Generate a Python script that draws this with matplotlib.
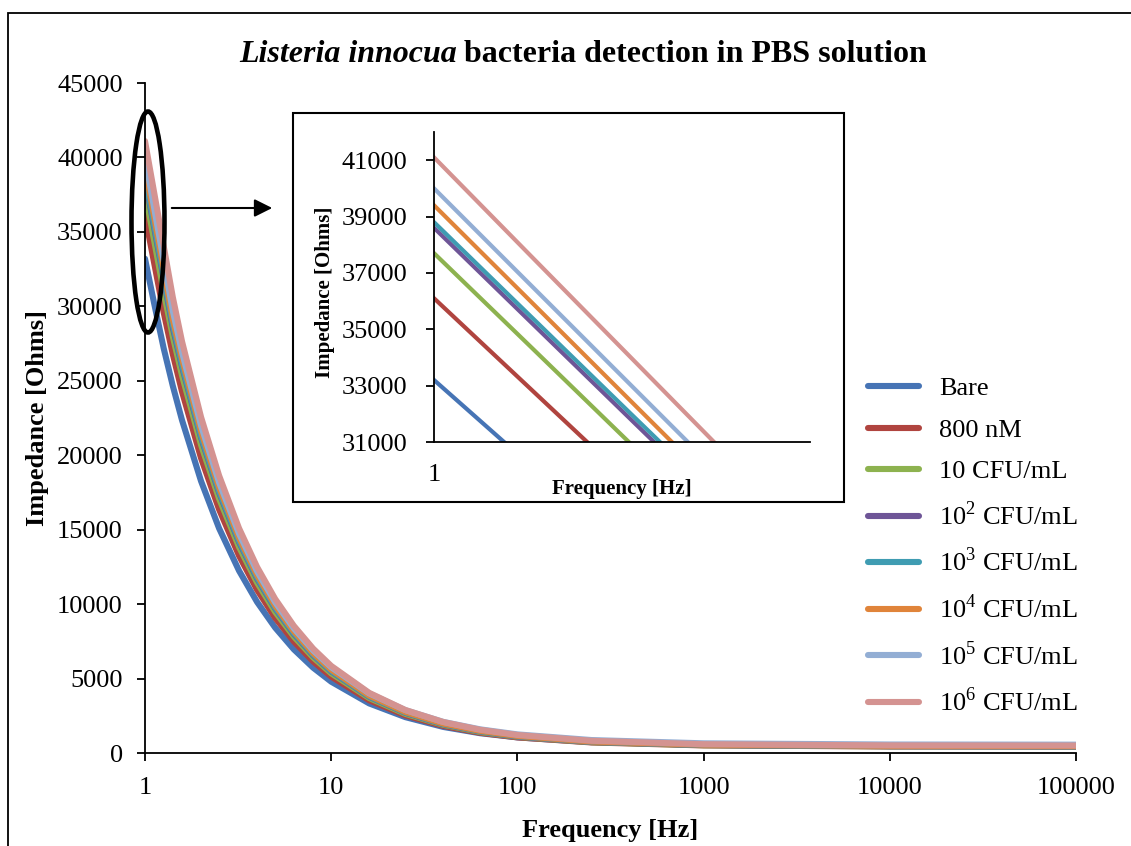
import matplotlib
matplotlib.use("Agg")
import matplotlib.pyplot as plt
from matplotlib.patches import Ellipse, Rectangle, FancyArrowPatch
from matplotlib.ticker import FixedLocator, NullLocator, FixedFormatter

plt.rcParams["font.family"] = ["Liberation Serif", "DejaVu Serif"]
plt.rcParams["mathtext.fontset"] = "custom"
plt.rcParams["mathtext.rm"] = "Liberation Serif"

# impedance sweep, Hz
freq = [1, 1.12, 1.26, 1.41, 1.58, 2, 2.5, 3.2, 4, 5, 6.3, 8, 10, 16, 25, 40, 63, 100,
        250, 1000, 10000, 100000]

# |Z| in Ohms for each electrode condition
z_bare = [33200, 30190, 27180, 24660, 22360, 18260, 15090, 12240, 10140, 8420, 6960, 5730,
          4790, 3330, 2410, 1750, 1330, 1050, 730, 555, 490, 480]
z_800nm = [36100, 32910, 29590, 26790, 24280, 19810, 16360, 13250, 10960, 9080, 7490, 6150,
           5130, 3540, 2530, 1820, 1360, 1050, 710, 510, 440, 430]
z_cfu1 = [37700, 34410, 30980, 27980, 25360, 20690, 17080, 13830, 11440, 9480, 7820, 6420,
          5350, 3690, 2630, 1890, 1410, 1090, 730, 525, 450, 440]
z_cfu2 = [38600, 35290, 31850, 28570, 25960, 21180, 17480, 14160, 11710, 9710, 8000, 6570,
          5480, 3780, 2700, 1930, 1450, 1110, 750, 540, 460, 450]
z_cfu3 = [38800, 35490, 32050, 28780, 26100, 21290, 17580, 14240, 11780, 9760, 8050, 6610,
          5510, 3800, 2720, 1950, 1460, 1130, 760, 550, 470, 460]
z_cfu4 = [39400, 36020, 32500, 29140, 26500, 21620, 17850, 14460, 11960, 9910, 8180, 6710,
          5600, 3860, 2760, 1980, 1490, 1150, 770, 560, 480, 470]
z_cfu5 = [40000, 36600, 33070, 29700, 26930, 21990, 18170, 14730, 12200, 10130, 8370, 6890,
          5760, 4000, 2880, 2090, 1590, 1250, 870, 650, 570, 560]
z_cfu6 = [41100, 37640, 34050, 30620, 27650, 22560, 18630, 15090, 12490, 10350, 8540, 7010,
          5850, 4040, 2890, 2080, 1560, 1210, 820, 590, 510, 500]

labels = ["Bare", "800 nM", "10 CFU/mL", "10$^{2}$ CFU/mL", "10$^{3}$ CFU/mL",
          "10$^{4}$ CFU/mL", "10$^{5}$ CFU/mL", "10$^{6}$ CFU/mL"]
colors = ["#4674B5", "#B0443F", "#8DB24F", "#6E5597", "#3F9CB2",
          "#E0843A", "#93AED4", "#D49391"]
series = [z_bare, z_800nm, z_cfu1, z_cfu2, z_cfu3, z_cfu4, z_cfu5, z_cfu6]

x_ticks = [1, 10, 100, 1000, 10000, 100000]
y_ticks = list(range(0, 45001, 5000))
inset_y_ticks = [31000, 33000, 35000, 37000, 39000, 41000]

W, H = 1131, 846
FS = 19

fig = plt.figure(figsize=(W / 100, H / 100), dpi=100)


def fx(px):
    return px / W


def fy(py):
    return 1 - py / H


# outer frame (open at right and bottom)
fig.add_artist(Rectangle((fx(8), -0.2), 1.3, fy(13) + 0.2, transform=fig.transFigure,
                         fill=False, ec="black", lw=1.3, clip_on=False))

# ---- main axes ----
ax = fig.add_axes([fx(145), fy(753), fx(1076) - fx(145), fy(83) - fy(753)])
lines = []
for z, c, lab in zip(series, colors, labels):
    ln, = ax.plot(freq, z, color=c, lw=4.4, solid_capstyle="round", label=lab)
    lines.append(ln)
ax.set_xscale("log")
ax.set_xlim(1, 100000)
ax.set_ylim(0, 45000)
ax.xaxis.set_major_locator(FixedLocator(x_ticks))
ax.xaxis.set_major_formatter(FixedFormatter([str(v) for v in x_ticks]))
ax.xaxis.set_minor_locator(NullLocator())
ax.set_yticks(y_ticks)
ax.set_yticklabels([str(v) for v in y_ticks])
for s in ("top", "right"):
    ax.spines[s].set_visible(False)
for s in ("left", "bottom"):
    ax.spines[s].set_linewidth(1.3)
ax.tick_params(axis="both", direction="out", length=6, width=1.3, labelsize=FS)
ax.tick_params(axis="x", pad=11)
ax.tick_params(axis="y", pad=10)

fig.text(fx(610), fy(830), "Frequency [Hz]", fontsize=FS, fontweight="bold",
         ha="center", va="center")
fig.text(fx(38), fy(418), "Impedance [Ohms]", fontsize=FS, fontweight="bold",
         ha="center", va="center", rotation=90)

# title: italic species name followed by bold text, centred as one line
t1 = fig.text(0, fy(55), "Listeria innocua", fontsize=23, fontweight="bold",
              fontstyle="italic", ha="left", va="center")
t2 = fig.text(0, fy(55), " bacteria detection in PBS solution", fontsize=23,
              fontweight="bold", ha="left", va="center")
fig.canvas.draw()
r = fig.canvas.get_renderer()
w1 = t1.get_window_extent(r).width
w2 = t2.get_window_extent(r).width
x0 = 583 - (w1 + w2) / 2
t1.set_x(fx(x0))
t2.set_x(fx(x0 + w1))

# ---- zoomed inset ----
fig.add_artist(Rectangle((fx(293), fy(502)), fx(844) - fx(293), fy(113) - fy(502),
                         transform=fig.transFigure, fill=False, ec="black", lw=1.5))
ins = fig.add_axes([fx(434), fy(442), fx(810) - fx(434), fy(132) - fy(442)])
for z, c in zip(series, colors):
    ins.plot(freq, z, color=c, lw=3.0)
ins.set_xscale("log")
ins.set_xlim(1, 1.56)
ins.set_ylim(31000, 42000)
ins.xaxis.set_major_locator(FixedLocator([1]))
ins.xaxis.set_major_formatter(FixedFormatter(["1"]))
ins.xaxis.set_minor_locator(NullLocator())
ins.set_yticks(inset_y_ticks)
ins.set_yticklabels([str(v) for v in inset_y_ticks])
for s in ("top", "right"):
    ins.spines[s].set_visible(False)
for s in ("left", "bottom"):
    ins.spines[s].set_linewidth(1.3)
ins.tick_params(axis="y", direction="out", length=6, width=1.3, labelsize=FS, pad=13)
ins.tick_params(axis="x", length=0, labelsize=FS, pad=16)
fig.text(fx(622), fy(489), "Frequency [Hz]", fontsize=15, fontweight="bold",
         ha="center", va="center")
fig.text(fx(325), fy(292), "Impedance [Ohms]", fontsize=15, fontweight="bold",
         ha="center", va="center", rotation=90)

# highlight of the low-frequency region and pointer to the inset
fig.add_artist(Ellipse((fx(148), fy(222)), fx(33), 221 / H, transform=fig.transFigure,
                       fill=False, ec="black", lw=3.3))
fig.add_artist(FancyArrowPatch((fx(169), fy(208)), (fx(275), fy(208)),
                               transform=fig.transFigure,
                               arrowstyle="-|>,head_length=0.6,head_width=0.3",
                               mutation_scale=18, color="black", lw=1.5))

# legend
fig.legend(handles=lines, loc="upper left", bbox_to_anchor=(fx(868), fy(377)),
           frameon=False, fontsize=FS, handlelength=1.95, handletextpad=0.75,
           labelspacing=0.68, borderpad=0, borderaxespad=0)

fig.savefig("out.png", dpi=100)
